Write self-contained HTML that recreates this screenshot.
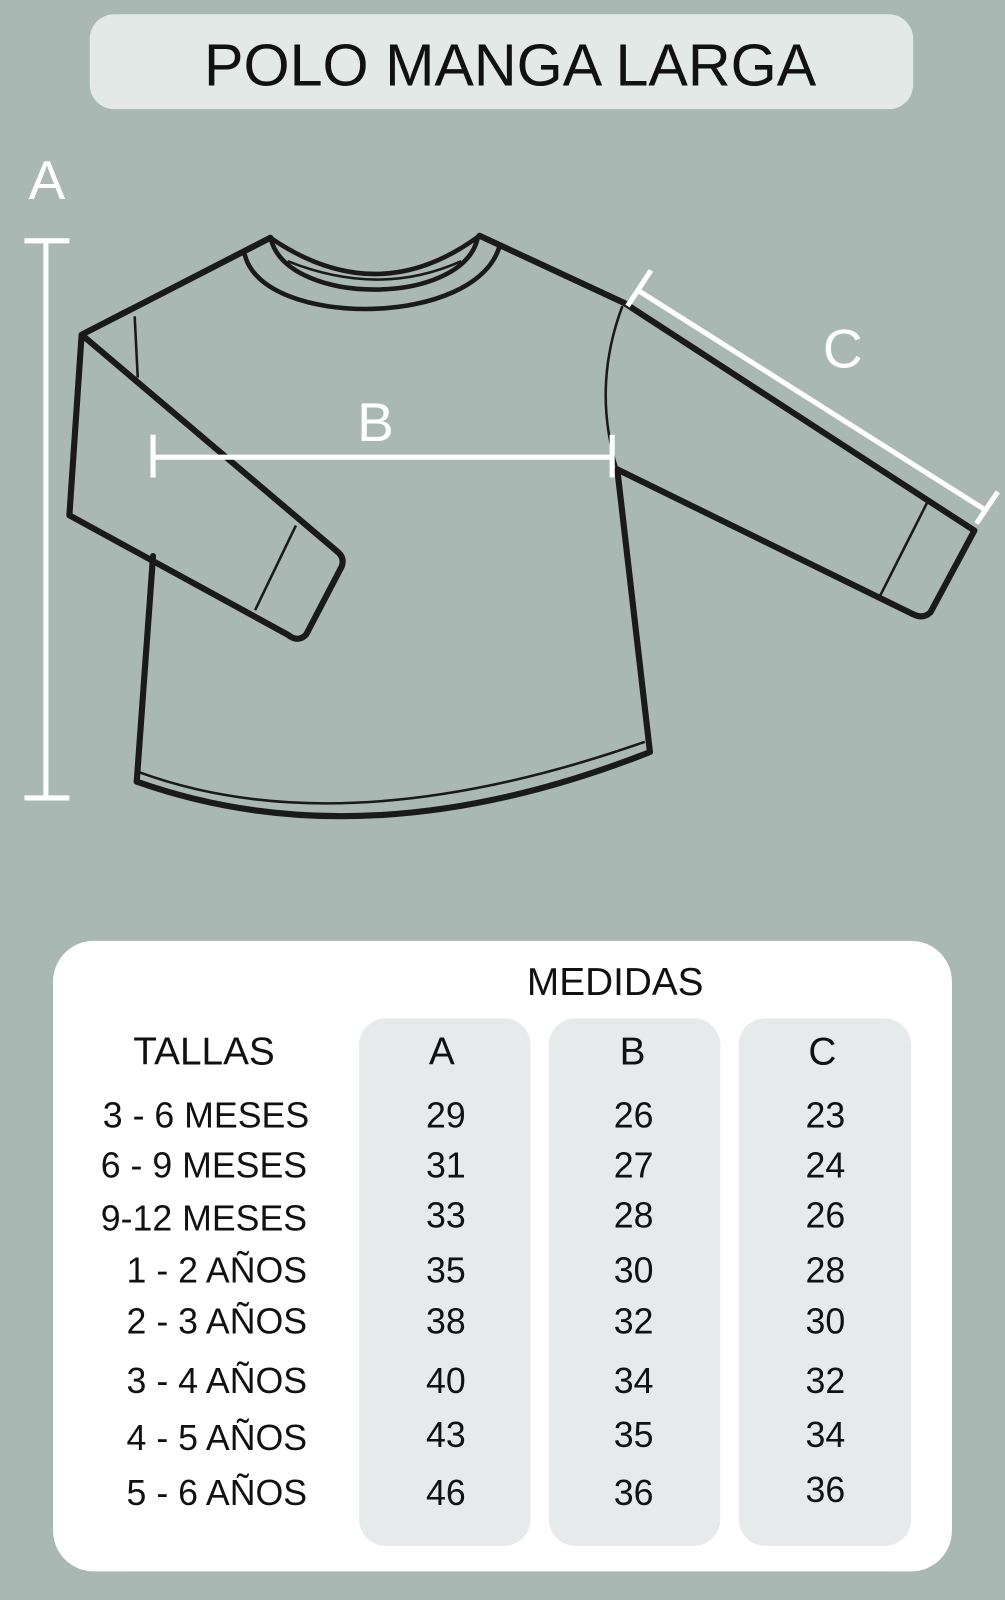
<!DOCTYPE html>
<html><head><meta charset="utf-8"><style>
html,body{margin:0;padding:0;background:#a9b8b2;}
svg{display:block;}
text{font-family:"Liberation Sans","DejaVu Sans",sans-serif;}
</style></head><body>
<svg width="1005" height="1600" viewBox="0 0 985 1568" preserveAspectRatio="none" xmlns="http://www.w3.org/2000/svg">
<rect x="0" y="0" width="985" height="1568" fill="#a9b8b2"/>
<rect x="88" y="14" width="807" height="93" rx="24" fill="#e3e9e6"/>
<text x="500" y="84" font-size="58" text-anchor="middle" fill="#111" textLength="600" lengthAdjust="spacingAndGlyphs">POLO MANGA LARGA</text>

<!-- shirt -->
<g fill="none" stroke="#1a1a1a" stroke-width="6" stroke-linejoin="round" stroke-linecap="round">
<path d="M265 233 L80 328 L68 505 L282 622 Q292 630 300 622 L335 555 Q338 546 330 540 L80 328"/>
<path d="M150 545 L134 766 Q360 846 637 737 L605 460"/>
<path d="M470 231 L612 297 L955 520 L912 600 Q905 607 895 602 L605 460"/>
</g>
<g fill="none" stroke="#1a1a1a" stroke-width="4.5" stroke-linecap="round">
<path d="M265 233 Q370 305 470 231"/>
<path d="M240 250 C258 322 468 322 490 240"/>
<path d="M266 236 C285 300 452 300 468 234"/>
</g>
<g fill="none" stroke="#1a1a1a" stroke-width="2.5">
<path d="M282 256 Q372 292 452 256"/>
<path d="M137 757 Q338 830 632 727"/>
<path d="M132 310 L135 370"/>
<path d="M610 300 Q580 380 605 460"/>
<path d="M290 515 L250 598"/>
<path d="M910 490 L862 585"/>
</g>

<!-- dimension lines -->
<g stroke="#ffffff" stroke-width="5" fill="none">
<line x1="45" y1="236" x2="45" y2="782"/>
<line x1="24" y1="236" x2="68" y2="236"/>
<line x1="24" y1="782" x2="68" y2="782"/>
<line x1="150" y1="448" x2="600" y2="448"/>
<line x1="150" y1="426" x2="150" y2="468"/>
<line x1="600" y1="426" x2="600" y2="468"/>
<line x1="626" y1="285" x2="966" y2="500"/>
<line x1="615" y1="300" x2="638" y2="265"/>
<line x1="957" y1="513" x2="978" y2="482"/>
</g>
<g fill="#ffffff" font-size="54" text-anchor="middle">
<text x="46" y="195">A</text>
<text x="368" y="432">B</text>
<text x="826" y="360">C</text>
</g>

<!-- table -->
<rect x="52" y="922" width="881" height="618" rx="40" fill="#ffffff"/>
<rect x="352" y="998" width="168" height="517" rx="26" fill="#e6eaea"/>
<rect x="538" y="998" width="168" height="517" rx="26" fill="#e6eaea"/>
<rect x="724" y="998" width="169" height="517" rx="26" fill="#e6eaea"/>
<g fill="#111" font-size="38" text-anchor="middle">
<text x="603" y="975">MEDIDAS</text>
<text x="200" y="1043">TALLAS</text>
<text x="433" y="1043">A</text>
<text x="620" y="1043">B</text>
<text x="806" y="1043">C</text>
</g>
<g fill="#111" font-size="35" text-anchor="end">
<text x="303" y="1105">3 - 6 MESES</text>
<text x="301" y="1154">6 - 9 MESES</text>
<text x="301" y="1206">9-12 MESES</text>
<text x="301" y="1257">1 - 2 AÑOS</text>
<text x="301" y="1307">2 - 3 AÑOS</text>
<text x="301" y="1365">3 - 4 AÑOS</text>
<text x="301" y="1421">4 - 5 AÑOS</text>
<text x="301" y="1475">5 - 6 AÑOS</text>
</g>
<g fill="#111" font-size="35" text-anchor="middle">
<text x="437" y="1105">29</text><text x="621" y="1105">26</text><text x="809" y="1105">23</text>
<text x="437" y="1154">31</text><text x="621" y="1154">27</text><text x="809" y="1154">24</text>
<text x="437" y="1203">33</text><text x="621" y="1203">28</text><text x="809" y="1203">26</text>
<text x="437" y="1257">35</text><text x="621" y="1257">30</text><text x="809" y="1257">28</text>
<text x="437" y="1307">38</text><text x="621" y="1307">32</text><text x="809" y="1307">30</text>
<text x="437" y="1365">40</text><text x="621" y="1365">34</text><text x="809" y="1365">32</text>
<text x="437" y="1418">43</text><text x="621" y="1418">35</text><text x="809" y="1418">34</text>
<text x="437" y="1475">46</text><text x="621" y="1475">36</text><text x="809" y="1472">36</text>
</g>
</svg>
</body></html>
